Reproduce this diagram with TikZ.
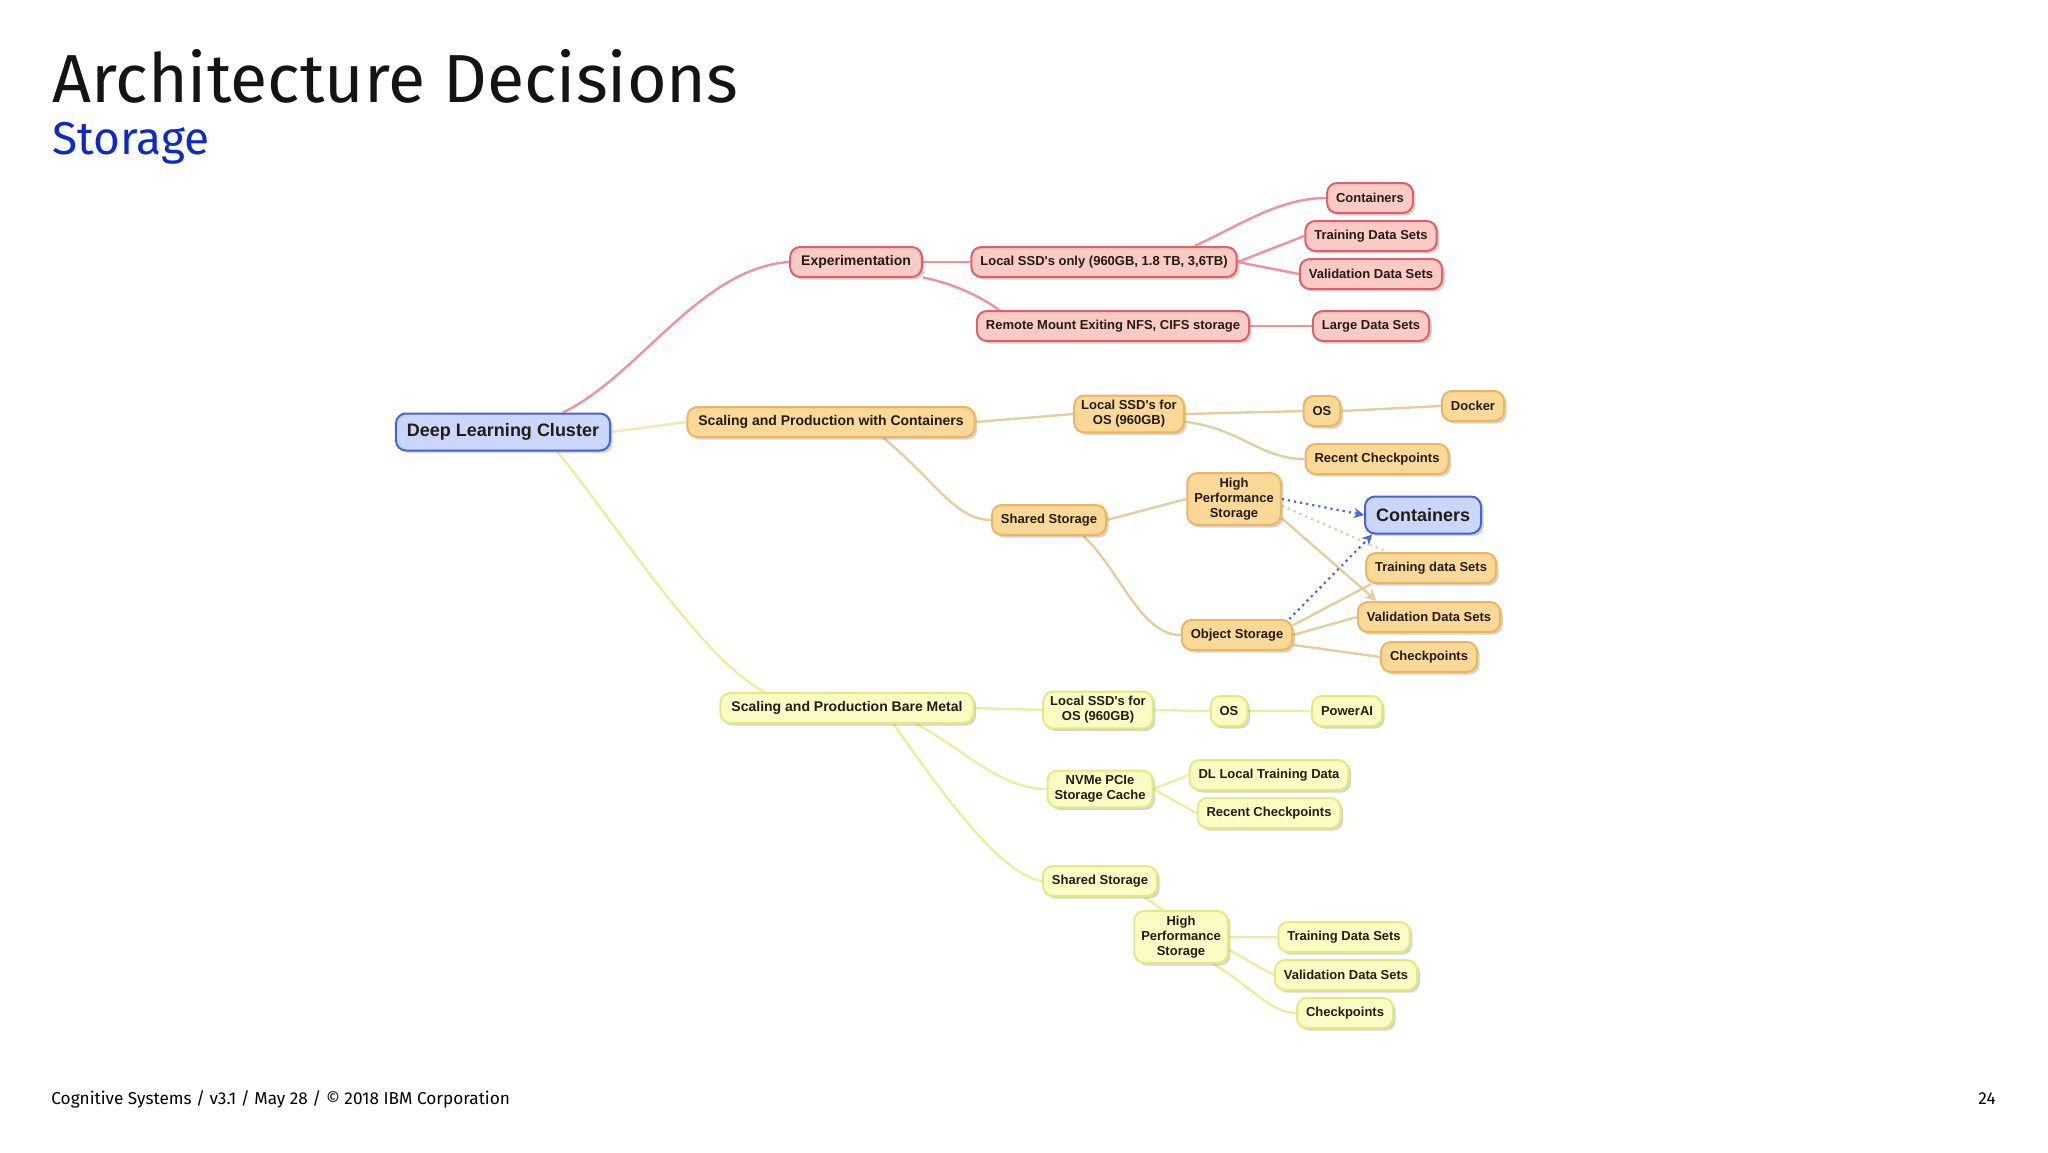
\documentclass[tikz,border=0pt]{standalone}
\usepackage{fontspec}
\setmainfont{Fira Sans}
\newfontfamily\diagfont{Liberation Sans}
\usetikzlibrary{arrows.meta,shadows,backgrounds}

\tikzset{
  box/.style={rounded corners=5pt, line width=1pt, inner xsep=4.5pt, inner ysep=1pt,
    minimum height=15pt, align=center, text={rgb, 255:red, 35; green, 28; blue, 20},
    font=\diagfont\bfseries\fontsize{6.5}{7.4}\selectfont,
    drop shadow={shadow xshift=1.3pt, shadow yshift=-1.3pt, opacity=0.28, fill=black!60}},
  level1/.style={inner xsep=5.5pt, font=\diagfont\bfseries\fontsize{7}{7.6}\selectfont},
  multi/.style={inner xsep=3.5pt, inner ysep=2.5pt},
  rnode/.style={box, draw={rgb, 255:red, 222; green, 96; blue, 108}, fill={rgb, 255:red, 250; green, 202; blue, 196}},
  onode/.style={box, draw={rgb, 255:red, 236; green, 182; blue, 96}, fill={rgb, 255:red, 250; green, 216; blue, 152}},
  ynode/.style={box, draw={rgb, 255:red, 226; green, 236; blue, 126}, fill={rgb, 255:red, 251; green, 251; blue, 196}},
  bnode/.style={box, draw={rgb, 255:red, 72; green, 100; blue, 210}, fill={rgb, 255:red, 202; green, 214; blue, 250},
    inner xsep=5.5pt, font=\diagfont\bfseries\fontsize{9}{10}\selectfont, minimum height=18.5pt},
  redge/.style={line width=1.2pt, draw={rgb, 255:red, 238; green, 146; blue, 156}},
  oedge/.style={line width=1.2pt, draw={rgb, 255:red, 228; green, 206; blue, 160}},
  yedge/.style={line width=1.2pt, draw={rgb, 255:red, 232; green, 240; blue, 160}},
  bdots/.style={line width=1.1pt, dotted, draw={rgb, 255:red, 70; green, 100; blue, 222},
    -{Stealth[length=5pt,width=5pt,open]}},
}

\begin{document}
\begin{tikzpicture}[x=0.5pt,y=0.5pt,yscale=-1,xscale=1]
\useasboundingbox (0,0) rectangle (2048,1152);

% Text Node
\draw (52,102) node [anchor=base west, inner sep=0pt, font=\fontsize{34}{40}\selectfont, text={rgb, 255:red, 20; green, 20; blue, 20}] (title) {Architecture Decisions};
% Text Node
\draw (52,154) node [anchor=base west, inner sep=0pt, font=\fontsize{23}{27}\selectfont, text={rgb, 255:red, 15; green, 40; blue, 200}] (sub) {Storage};

% Text Node
\draw (503,432) node [bnode] (root) {Deep Learning Cluster};

% Text Node
\draw (856,262) node [rnode, level1] (exp) {Experimentation};
% Text Node
\draw (1104,262) node [rnode] (lssd) {Local SSD's only (960GB, 1.8 TB, 3,6TB)};
% Text Node
\draw (1113,326) node [rnode] (remote) {Remote Mount Exiting NFS, CIFS storage};
% Text Node
\draw (1370,198) node [rnode] (rcont) {Containers};
% Text Node
\draw (1371,236) node [rnode] (rtrain) {Training Data Sets};
% Text Node
\draw (1371,274) node [rnode] (rvalid) {Validation Data Sets};
% Text Node
\draw (1371,326) node [rnode] (rlarge) {Large Data Sets};

% Text Node
\draw (831,422) node [onode, level1] (sc) {Scaling and Production with Containers};
% Text Node
\draw (1129,414) node [onode, multi] (olssd) {Local SSD's for\\OS (960GB)};
% Text Node
\draw (1322,411) node [onode] (oos) {OS};
% Text Node
\draw (1473,406) node [onode] (docker) {Docker};
% Text Node
\draw (1377,459) node [onode] (orecent) {Recent Checkpoints};
% Text Node
\draw (1049,520) node [onode] (oshared) {Shared Storage};
% Text Node
\draw (1234,499) node [onode, multi] (ohps) {High\\Performance\\Storage};
% Text Node
\draw (1423,515) node [bnode] (bcont) {Containers};
% Text Node
\draw (1431,568) node [onode] (otrain) {Training data Sets};
% Text Node
\draw (1429,617) node [onode] (ovalid) {Validation Data Sets};
% Text Node
\draw (1237,635) node [onode] (objst) {Object Storage};
% Text Node
\draw (1429,657) node [onode] (ochk) {Checkpoints};

% Text Node
\draw (847,708) node [ynode, level1] (bm) {Scaling and Production Bare Metal};
% Text Node
\draw (1098,710) node [ynode, multi] (ylssd) {Local SSD's for\\OS (960GB)};
% Text Node
\draw (1229,711) node [ynode] (yos) {OS};
% Text Node
\draw (1347,711) node [ynode] (powerai) {PowerAI};
% Text Node
\draw (1100,789) node [ynode, multi] (nvme) {NVMe PCIe\\Storage Cache};
% Text Node
\draw (1269,775) node [ynode] (dl) {DL Local Training Data};
% Text Node
\draw (1269,813) node [ynode] (yrecent) {Recent Checkpoints};
% Text Node
\draw (1100,881) node [ynode] (yshared) {Shared Storage};
% Text Node
\draw (1181,937) node [ynode, multi] (yhps) {High\\Performance\\Storage};
% Text Node
\draw (1344,937) node [ynode] (ytrain) {Training Data Sets};
% Text Node
\draw (1346,975) node [ynode] (yvalid) {Validation Data Sets};
% Text Node
\draw (1345,1013) node [ynode] (ychk) {Checkpoints};

% Text Node
\draw (51,1104) node [anchor=base west, inner sep=0pt, font=\fontsize{8.6}{10}\selectfont] (foot) {Cognitive Systems / v3.1 / May 28 / © 2018 IBM Corporation};
% Text Node
\draw (1996,1104) node [anchor=base east, inner sep=0pt, font=\fontsize{8.6}{10}\selectfont] (page) {24};

\begin{scope}[on background layer]
%Curve Lines
\draw [redge] (root.18) .. controls (640,375) and (700,268) .. (exp.west) ;
%Straight Lines
\draw [redge] (exp.east) -- (lssd.west) ;
%Curve Lines
\draw [redge] (exp.-13) .. controls (960,285) and (985,300) .. (remote.172) ;
%Curve Lines
\draw [redge] (lssd.10) .. controls (1240,225) and (1280,198) .. (rcont.west) ;
%Straight Lines
\draw [redge] (lssd.east) -- (rtrain.west) ;
\draw [redge] (lssd.east) -- (rvalid.west) ;
\draw [redge] (remote.east) -- (rlarge.west) ;

%Straight Lines
\draw [oedge, draw={rgb, 255:red, 242; green, 232; blue, 176}] (root.east) -- (sc.west) ;
\draw [oedge] (sc.east) -- (olssd.west) ;
%Curve Lines
\draw [oedge] (sc.-17) .. controls (935,480) and (955,520) .. (oshared.west) ;
%Straight Lines
\draw [oedge] (olssd.east) -- (oos.west) ;
\draw [oedge] (oos.east) -- (docker.west) ;
%Curve Lines
\draw [oedge] (olssd.-8) .. controls (1240,428) and (1260,459) .. (orecent.west) ;
%Straight Lines
\draw [oedge] (oshared.east) -- (ohps.west) ;
%Curve Lines
\draw [oedge] (oshared.-25) .. controls (1120,570) and (1140,635) .. (objst.west) ;
%Straight Lines
\draw [oedge, dotted] (ohps.-8) -- (otrain.160) ;
\draw [oedge, -{Stealth[length=6pt,width=6pt,fill={rgb, 255:red, 250; green, 216; blue, 152}]}] (ohps.-22) -- (ovalid.163) ;
\draw [oedge] (objst.10) -- (otrain.195) ;
\draw [oedge] (objst.east) -- (ovalid.west) ;
\draw [oedge] (objst.-10) -- (ochk.west) ;
\draw [bdots] (ohps.east) -- (bcont.west) ;
\draw [bdots] (objst.17) -- (bcont.201) ;

%Curve Lines
\draw [yedge] (root.-20) .. controls (600,500) and (700,660) .. (bm.169) ;
%Straight Lines
\draw [yedge] (bm.east) -- (ylssd.west) ;
\draw [yedge] (ylssd.east) -- (yos.west) ;
\draw [yedge] (yos.east) -- (powerai.west) ;
%Curve Lines
\draw [yedge] (bm.-13) .. controls (965,750) and (1000,789) .. (nvme.west) ;
\draw [yedge] (bm.-19) .. controls (940,790) and (1000,875) .. (yshared.west) ;
%Straight Lines
\draw [yedge] (nvme.east) -- (dl.west) ;
\draw [yedge] (nvme.east) -- (yrecent.west) ;
\draw [yedge] (yshared.-20) -- (yhps.124) ;
\draw [yedge] (yhps.east) -- (ytrain.west) ;
\draw [yedge] (yhps.-15) -- (yvalid.west) ;
%Curve Lines
\draw [yedge] (yhps.-40) .. controls (1250,985) and (1270,1013) .. (ychk.west) ;
\end{scope}

\end{tikzpicture}
\end{document}
